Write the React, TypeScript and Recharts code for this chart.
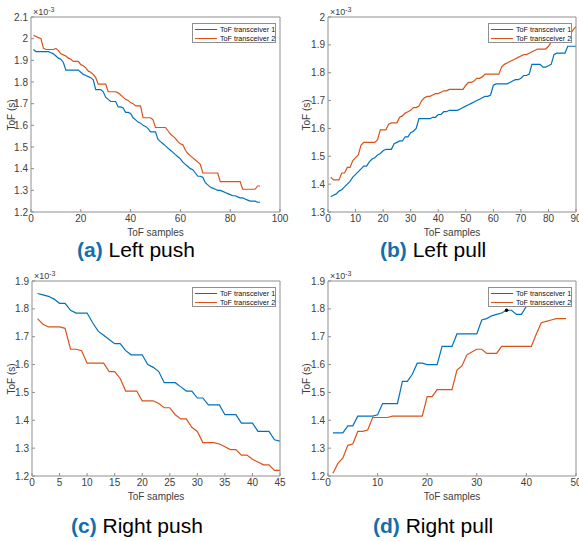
import React from 'react';
import { LineChart, Line, XAxis, YAxis, ReferenceDot } from 'recharts';

// ToF values in units of 1e-3 s, one value per sample (sample index starts at 1)
const leftPushT1 = [
  1.95, 1.94, 1.94, 1.94, 1.94, 1.94, 1.94, 1.935, 1.93, 1.92,
  1.91, 1.905, 1.89, 1.855, 1.855, 1.855, 1.855, 1.855, 1.855, 1.845,
  1.835, 1.83, 1.825, 1.82, 1.81, 1.765, 1.765, 1.765, 1.755, 1.73,
  1.72, 1.71, 1.71, 1.71, 1.685, 1.685, 1.68, 1.66, 1.66, 1.655,
  1.635, 1.625, 1.615, 1.61, 1.6, 1.595, 1.585, 1.57, 1.57, 1.57,
  1.535, 1.525, 1.515, 1.505, 1.495, 1.485, 1.475, 1.465, 1.455, 1.445,
  1.43, 1.42, 1.41, 1.4, 1.395, 1.38, 1.365, 1.365, 1.36, 1.335,
  1.325, 1.315, 1.31, 1.305, 1.3, 1.3, 1.295, 1.29, 1.285, 1.28,
  1.275, 1.275, 1.27, 1.265, 1.265, 1.26, 1.255, 1.25, 1.25, 1.25,
  1.245, 1.245,
];
const leftPushT2 = [
  2.015, 2.01, 2.005, 2.0, 1.955, 1.95, 1.95, 1.95, 1.95, 1.955,
  1.945, 1.93, 1.925, 1.92, 1.91, 1.905, 1.895, 1.895, 1.895, 1.88,
  1.875, 1.865, 1.85, 1.845, 1.835, 1.82, 1.79, 1.79, 1.79, 1.79,
  1.755, 1.755, 1.755, 1.755, 1.75, 1.74, 1.73, 1.72, 1.715, 1.705,
  1.7, 1.69, 1.69, 1.69, 1.635, 1.635, 1.635, 1.635, 1.625, 1.59,
  1.59, 1.59, 1.59, 1.59, 1.575, 1.56, 1.55, 1.54, 1.525, 1.515,
  1.51, 1.485, 1.47, 1.46, 1.45, 1.44, 1.43, 1.42, 1.38, 1.38,
  1.38, 1.38, 1.38, 1.38, 1.38, 1.34, 1.34, 1.34, 1.34, 1.34,
  1.34, 1.34, 1.34, 1.34, 1.305, 1.305, 1.305, 1.305, 1.305, 1.305,
  1.32, 1.32,
];

const leftPullT1 = [
  1.355, 1.36, 1.365, 1.375, 1.38, 1.39, 1.4, 1.41, 1.425, 1.435,
  1.445, 1.455, 1.465, 1.465, 1.48, 1.49, 1.495, 1.505, 1.51, 1.52,
  1.525, 1.525, 1.525, 1.545, 1.55, 1.555, 1.555, 1.57, 1.57, 1.585,
  1.59, 1.6, 1.635, 1.635, 1.635, 1.635, 1.635, 1.64, 1.64, 1.65,
  1.65, 1.66, 1.66, 1.665, 1.665, 1.665, 1.665, 1.67, 1.675, 1.68,
  1.685, 1.69, 1.695, 1.7, 1.705, 1.71, 1.715, 1.715, 1.72, 1.755,
  1.76, 1.76, 1.76, 1.76, 1.76, 1.765, 1.77, 1.775, 1.775, 1.78,
  1.79, 1.79, 1.795, 1.83, 1.83, 1.83, 1.83, 1.82, 1.82, 1.825,
  1.83, 1.865, 1.87, 1.87, 1.87, 1.87, 1.895, 1.895, 1.895, 1.895,
];
const leftPullT2 = [
  1.425, 1.415, 1.415, 1.415, 1.44, 1.44, 1.46, 1.46, 1.485, 1.495,
  1.505, 1.54, 1.55, 1.55, 1.55, 1.55, 1.55, 1.56, 1.595, 1.595,
  1.595, 1.615, 1.62, 1.62, 1.62, 1.64, 1.645, 1.655, 1.66, 1.665,
  1.675, 1.675, 1.68, 1.7, 1.71, 1.715, 1.715, 1.72, 1.725, 1.725,
  1.73, 1.735, 1.735, 1.74, 1.74, 1.74, 1.74, 1.74, 1.74, 1.755,
  1.765, 1.765, 1.77, 1.78, 1.78, 1.785, 1.795, 1.795, 1.795, 1.795,
  1.795, 1.795, 1.82, 1.83, 1.835, 1.84, 1.845, 1.85, 1.855, 1.86,
  1.865, 1.865, 1.87, 1.875, 1.88, 1.885, 1.885, 1.885, 1.885, 1.895,
  1.91, 1.915, 1.915, 1.915, 1.93, 1.935, 1.935, 1.94, 1.955, 1.965,
];

const rightPushT1 = [
  1.855, 1.85, 1.845, 1.835, 1.82, 1.82, 1.795, 1.785, 1.785, 1.785,
  1.75, 1.72, 1.705, 1.69, 1.675, 1.675, 1.65, 1.635, 1.635, 1.635,
  1.6, 1.59, 1.575, 1.535, 1.535, 1.535, 1.52, 1.505, 1.505, 1.48,
  1.48, 1.455, 1.455, 1.455, 1.42, 1.42, 1.42, 1.39, 1.39, 1.39,
  1.36, 1.36, 1.36, 1.33, 1.325,
];
const rightPushT2 = [
  1.765, 1.745, 1.735, 1.735, 1.735, 1.73, 1.655, 1.655, 1.65, 1.605,
  1.605, 1.605, 1.605, 1.575, 1.575, 1.55, 1.505, 1.505, 1.505, 1.47,
  1.47, 1.47, 1.46, 1.445, 1.445, 1.42, 1.405, 1.405, 1.375, 1.36,
  1.32, 1.32, 1.32, 1.315, 1.305, 1.295, 1.295, 1.275, 1.275, 1.26,
  1.25, 1.24, 1.24, 1.22, 1.22,
];

const rightPullT1 = [
  1.355, 1.355, 1.355, 1.38, 1.38, 1.415, 1.415, 1.415, 1.415, 1.42,
  1.46, 1.46, 1.46, 1.46, 1.54, 1.54, 1.565, 1.605, 1.605, 1.6,
  1.6, 1.6, 1.665, 1.665, 1.665, 1.71, 1.71, 1.71, 1.71, 1.71,
  1.76, 1.765, 1.775, 1.78, 1.785, 1.795, 1.795, 1.78, 1.78, 1.81,
  1.82, 1.82, 1.825, 1.83, 1.83, 1.835, 1.84, 1.84,
];
const rightPullT2 = [
  1.21, 1.245, 1.265, 1.31, 1.315, 1.36, 1.36, 1.365, 1.41, 1.41,
  1.41, 1.41, 1.415, 1.415, 1.415, 1.415, 1.415, 1.415, 1.415, 1.485,
  1.485, 1.51, 1.51, 1.51, 1.51, 1.58, 1.595, 1.635, 1.645, 1.655,
  1.655, 1.64, 1.64, 1.64, 1.665, 1.665, 1.665, 1.665, 1.665, 1.665,
  1.665, 1.71, 1.75, 1.755, 1.76, 1.765, 1.765, 1.765,
];
// data tip shown on transceiver 1 in the right pull plot
const rightPullTip = { x: 36, y: 1.795 };

const seriesNames = ['ToF transceiver 1', 'ToF transceiver 2'];
const xLabel = 'ToF samples';
const yLabel = 'ToF (s)';

const leftPushXTicks = [0, 20, 40, 60, 80, 100];
const leftPushYTicks = [1.2, 1.3, 1.4, 1.5, 1.6, 1.7, 1.8, 1.9, 2.0, 2.1];
const leftPullXTicks = [0, 10, 20, 30, 40, 50, 60, 70, 80, 90];
const leftPullYTicks = [1.3, 1.4, 1.5, 1.6, 1.7, 1.8, 1.9, 2.0];
const rightPushXTicks = [0, 5, 10, 15, 20, 25, 30, 35, 40, 45];
const rightPushYTicks = [1.2, 1.3, 1.4, 1.5, 1.6, 1.7, 1.8, 1.9];
const rightPullXTicks = [0, 10, 20, 30, 40, 50];
const rightPullYTicks = [1.2, 1.3, 1.4, 1.5, 1.6, 1.7, 1.8, 1.9];

const BLUE = '#0072BD';
const ORANGE = '#D95319';
const AXIS = '#8f8f8f';
const TEXT = '#404040';
const FONT = '"Liberation Sans", Arial, Helvetica, sans-serif';

const fmt = (v: number) => String(+v.toFixed(1));

const toRows = (s1: number[], s2: number[]) => {
  const n = Math.max(s1.length, s2.length);
  const rows = [];
  for (let i = 0; i < n; i++) rows.push({ x: i + 1, t1: s1[i], t2: s2[i] });
  return rows;
};

interface Box { top: number; right: number; bottom: number; left: number }

interface PanelProps {
  left: number;
  top: number;
  plot: Box; // distance of the plot box from the panel edges
  t1: number[];
  t2: number[];
  xTicks: number[];
  yTicks: number[];
  tag: string;
  title: string;
  titleLeft: number;
  titleTop: number;
  yLabelX: number;
  tip?: { x: number; y: number };
}

const W = 290;
const H = 230;
const YW = 26; // left axis width
const XH = 14; // bottom axis height

const Panel: React.FC<PanelProps> = ({
  left, top, plot, t1, t2, xTicks, yTicks, tag, title, titleLeft, titleTop, yLabelX, tip,
}) => {
  const rows = toRows(t1, t2);
  const xDom = [xTicks[0], xTicks[xTicks.length - 1]];
  const yDom = [yTicks[0], yTicks[yTicks.length - 1]];
  const margin = {
    top: plot.top - 1,
    right: plot.right - 1,
    bottom: plot.bottom - XH,
    left: plot.left - YW,
  };
  const plotL = left + plot.left;
  const plotR = left + W - plot.right;
  const plotT = top + plot.top;
  const plotB = top + H - plot.bottom;
  const tickStyle = { fontSize: 10, fill: TEXT, fontFamily: FONT };

  return (
    <>
      <div style={{ position: 'absolute', left, top }}>
        <LineChart width={W} height={H} data={rows} margin={margin}>
          <XAxis xAxisId={0} dataKey="x" type="number" domain={xDom} ticks={xTicks}
            allowDataOverflow height={XH} stroke={AXIS} tickSize={-3} tickMargin={6}
            tick={tickStyle} tickFormatter={(v: number) => String(v)} interval={0} />
          <XAxis xAxisId="top" orientation="top" dataKey="x" type="number" domain={xDom}
            ticks={xTicks} allowDataOverflow height={1} stroke={AXIS} tickSize={-3}
            tick={false} interval={0} />
          <YAxis yAxisId={0} type="number" domain={yDom} ticks={yTicks} allowDataOverflow
            width={YW} stroke={AXIS} tickSize={-3} tickMargin={6} tick={tickStyle}
            tickFormatter={fmt} interval={0} />
          <YAxis yAxisId="right" orientation="right" type="number" domain={yDom}
            ticks={yTicks} allowDataOverflow width={1} stroke={AXIS} tickSize={-3}
            tick={false} interval={0} />
          <Line dataKey="t1" stroke={BLUE} strokeWidth={1.2} dot={false} type="linear"
            isAnimationActive={false} />
          <Line dataKey="t2" stroke={ORANGE} strokeWidth={1.2} dot={false} type="linear"
            isAnimationActive={false} />
          {tip && <ReferenceDot x={tip.x} y={tip.y} r={1.8} fill="#000" stroke="none" />}
        </LineChart>
      </div>

      {/* exponent */}
      <div style={{ position: 'absolute', left: plotL + 2, top: plotT - 12, fontSize: 9,
        color: TEXT, fontFamily: FONT, lineHeight: '10px' }}>
        ×10<sup style={{ fontSize: 7, verticalAlign: 3 }}>-3</sup>
      </div>

      {/* legend */}
      <div style={{ position: 'absolute', left: plotR - 88, top: plotT + 6, width: 82,
        height: 18, background: '#fff', border: `1px solid ${AXIS}`, fontFamily: FONT,
        fontSize: 7.2, color: '#111' }}>
        {[BLUE, ORANGE].map((c, i) => (
          <div key={i} style={{ position: 'absolute', left: 2, top: 1 + i * 8.5, height: 9,
            display: 'flex', alignItems: 'center', whiteSpace: 'nowrap' }}>
            <span style={{ display: 'inline-block', width: 22, height: 0,
              borderTop: `1.2px solid ${c}`, marginRight: 3 }} />
            {seriesNames[i]}
          </div>
        ))}
      </div>

      {/* axis titles */}
      <div style={{ position: 'absolute', left: (plotL + plotR) / 2 - 40, width: 80,
        top: plotB + 15, textAlign: 'center', fontSize: 10, lineHeight: '12px',
        color: TEXT, fontFamily: FONT }}>
        {xLabel}
      </div>
      <div style={{ position: 'absolute', left: yLabelX - 40, width: 80,
        top: (plotT + plotB) / 2 - 6, textAlign: 'center', fontSize: 10, lineHeight: '12px',
        color: TEXT, fontFamily: FONT, transform: 'rotate(-90deg)' }}>
        {yLabel}
      </div>

      {/* subfigure caption */}
      <div style={{ position: 'absolute', left: titleLeft, top: titleTop, fontSize: 21,
        lineHeight: '24px', fontFamily: FONT, color: '#000', whiteSpace: 'nowrap' }}>
        <span style={{ color: '#146eaa', fontWeight: 'bold' }}>{tag}</span> {title}
      </div>
    </>
  );
};

export default function App() {
  return (
    <div style={{ position: 'absolute', left: 0, top: 0, width: 579, height: 541,
      background: '#fff', overflow: 'hidden' }}>
      <Panel left={0} top={0} plot={{ top: 17, right: 10, bottom: 18, left: 31 }}
        t1={leftPushT1} t2={leftPushT2} xTicks={leftPushXTicks} yTicks={leftPushYTicks}
        tag="(a)" title="Left push" titleLeft={77} titleTop={238} yLabelX={12} />
      <Panel left={289} top={0} plot={{ top: 17, right: 3, bottom: 18, left: 39 }}
        t1={leftPullT1} t2={leftPullT2} xTicks={leftPullXTicks} yTicks={leftPullYTicks}
        tag="(b)" title="Left pull" titleLeft={380} titleTop={238} yLabelX={307} />
      <Panel left={0} top={265} plot={{ top: 16, right: 10, bottom: 19, left: 32 }}
        t1={rightPushT1} t2={rightPushT2} xTicks={rightPushXTicks} yTicks={rightPushYTicks}
        tag="(c)" title="Right push" titleLeft={71} titleTop={514} yLabelX={12} />
      <Panel left={289} top={265} plot={{ top: 16, right: 3, bottom: 19, left: 39 }}
        t1={rightPullT1} t2={rightPullT2} xTicks={rightPullXTicks} yTicks={rightPullYTicks}
        tag="(d)" title="Right pull" titleLeft={373} titleTop={514} yLabelX={307}
        tip={rightPullTip} />
    </div>
  );
}
